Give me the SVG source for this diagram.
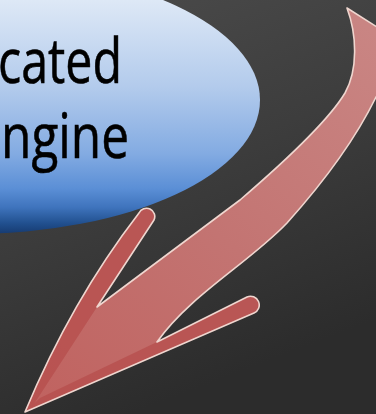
<svg xmlns="http://www.w3.org/2000/svg" width="376" height="414" viewBox="0 0 376 414">
  <defs>
    <linearGradient id="bg" x1="0" y1="0" x2="0.35" y2="1">
      <stop offset="0" stop-color="#4c4c4c"/>
      <stop offset="0.5" stop-color="#3d3d3d"/>
      <stop offset="1" stop-color="#2c2c2c"/>
    </linearGradient>
    <linearGradient id="blue" gradientUnits="userSpaceOnUse" x1="0" y1="-34" x2="0" y2="234">
      <stop offset="0" stop-color="#eef3fb"/>
      <stop offset="0.13" stop-color="#dde8f6"/>
      <stop offset="0.45" stop-color="#b3cbec"/>
      <stop offset="0.7" stop-color="#83abe2"/>
      <stop offset="0.83" stop-color="#5b8fd6"/>
      <stop offset="0.9" stop-color="#3f74bd"/>
      <stop offset="0.96" stop-color="#21508f"/>
      <stop offset="1" stop-color="#163a70"/>
    </linearGradient>
    <linearGradient id="red" gradientUnits="userSpaceOnUse" x1="360" y1="20" x2="30" y2="410">
      <stop offset="0" stop-color="#c98583"/>
      <stop offset="0.5" stop-color="#c37472"/>
      <stop offset="1" stop-color="#c0625f"/>
    </linearGradient>
    <style>
      .lbl { font-family: "Open Sans", "Liberation Sans", sans-serif; font-size: 62px; fill: #000; stroke: #000; stroke-width: 0.6; }
      .outline { fill: none; stroke: #efd6cf; stroke-width: 1.6; stroke-linejoin: round; }
      .barb { fill: #b54e4c; opacity: 0.75; }
    </style>
  </defs>

  <rect id="background" x="0" y="0" width="376" height="414" fill="url(#bg)"/>

  <g id="node-engine">
    <ellipse cx="-30" cy="100" rx="290" ry="134" fill="url(#blue)"/>
    <text class="lbl" x="-2" y="83" textLength="124" lengthAdjust="spacingAndGlyphs">cated</text>
    <text class="lbl" x="1" y="158" textLength="128" lengthAdjust="spacingAndGlyphs">ngine</text>
  </g>

  <g id="connectors">
    <path id="arrow-body" fill="url(#red)" d="M347,8 L388,34 C394,60 388,82 376,97 C360,130 330,175 287,223 C250,262 190,295 157,342 L247,297 A8,8 0 0 1 254,313 L25,412 C55,340 95,270 139,213 A8,8 0 0 1 154,220 L97,307 L240,200 C290,157 330,118 345,93 C358,70 357,35 347,8 Z"/>
    <path class="barb" d="M25,412 C55,340 95,270 139,213 A8,8 0 0 1 154,220 L97,307 L34,404 Z"/>
    <path class="barb" d="M157,342 L247,297 A8,8 0 0 1 254,313 L25,412 L40,398 Z"/>
    <path class="outline" d="M347,8 L388,34 C394,60 388,82 376,97 C360,130 330,175 287,223 C250,262 190,295 157,342 L247,297 A8,8 0 0 1 254,313 L25,412 C55,340 95,270 139,213 A8,8 0 0 1 154,220 L97,307 L240,200 C290,157 330,118 345,93 C358,70 357,35 347,8 Z"/>
  </g>
</svg>
